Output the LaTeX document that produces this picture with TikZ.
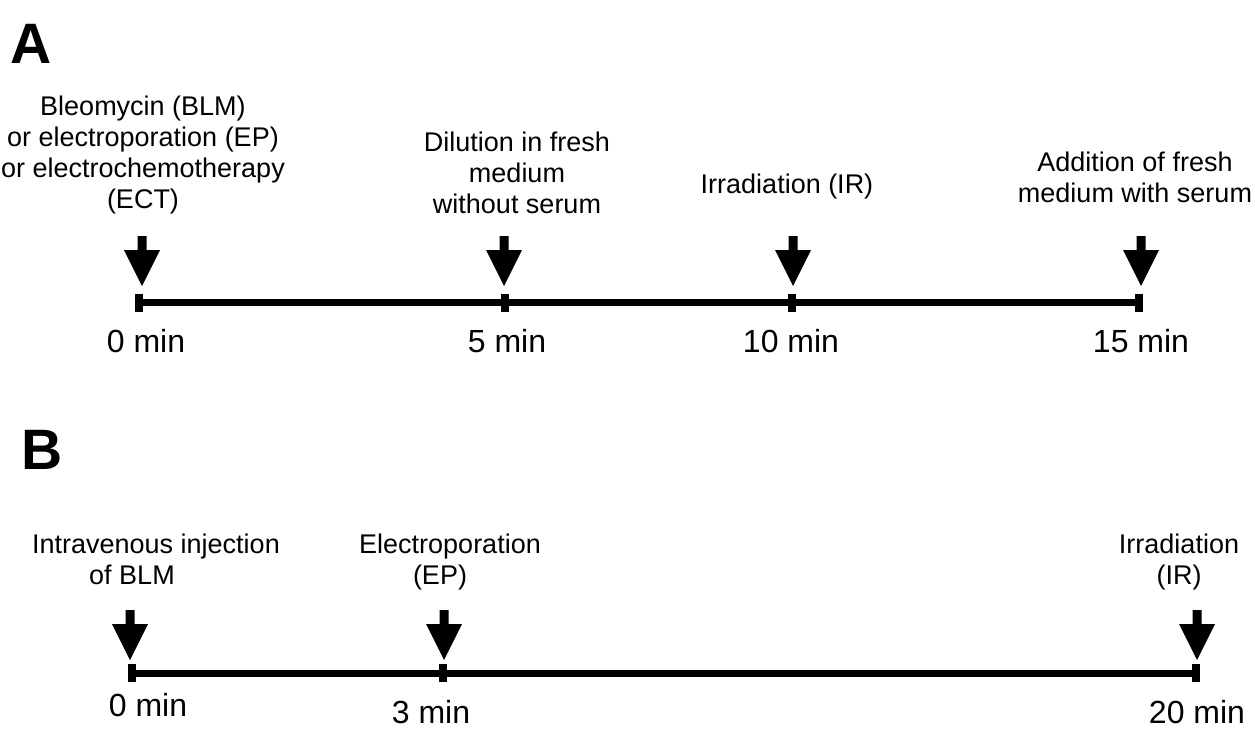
\documentclass[tikz,border=0pt]{standalone}
\usepackage{fontspec}
\setmainfont{Liberation Sans}
\begin{document}
\begin{tikzpicture}[x=1pt,y=-1pt,
  lbl/.style={font=\fontsize{27}{30.8}\selectfont, inner sep=0pt, align=center, anchor=base},
  tlbl/.style={font=\fontsize{32}{36}\selectfont, inner sep=0pt, anchor=base},
  panel/.style={font=\fontsize{57}{60}\selectfont\bfseries, inner sep=0pt, anchor=base west},
  axis/.style={line width=7pt},
  tickmark/.style={line width=8pt},
  pics/downarrow/.style={code={
    \fill (-4.5,-50) -- (4.5,-50) -- (4.5,-36) -- (18,-36) -- (0,0) -- (-18,-36) -- (-4.5,-36) -- cycle;
  }}
]
\useasboundingbox (0,0) rectangle (1255,737);

% ---------- Panel A ----------
\node[panel] (pA) at (10,63) {A};

\coordinate (a0) at (139,302.5);
\coordinate (a5) at (504.5,302.5);
\coordinate (a10) at (792,302.5);
\coordinate (a15) at (1139,302.5);
\coordinate (aS) at (135,302.5);
\coordinate (aE) at (1143,302.5);
\draw[axis] (aS) -- (aE);
\foreach \t in {a0,a5,a10,a15}{\draw[tickmark] ([yshift=9pt]\t) -- ([yshift=-9pt]\t);}

\pic at (142,286) {downarrow};
\pic at (504,286) {downarrow};
\pic at (793,286) {downarrow};
\pic at (1141,286) {downarrow};

% multi-line nodes: base anchor = baseline of the last line
\node[lbl] (la1) at (143,208) {Bleomycin (BLM)\\or electroporation (EP)\\or electrochemotherapy\\(ECT)};
\node[lbl] (la2) at (517,213) {Dilution in fresh\\medium\\without serum};
\node[lbl] (la3) at (787,193) {Irradiation (IR)};
\node[lbl] (la4) at (1135,202) {Addition of fresh\\medium with serum};

\node[tlbl] (ta0) at (146,352) {0 min};
\node[tlbl] (ta5) at (507,352) {5 min};
\node[tlbl] (ta10) at (791,352) {10 min};
\node[tlbl] (ta15) at (1141,352) {15 min};

% ---------- Panel B ----------
\node[panel] (pB) at (21,469) {B};

\coordinate (b0) at (132,673);
\coordinate (b3) at (443,673);
\coordinate (b20) at (1196,673);
\coordinate (bS) at (128,673);
\coordinate (bE) at (1200,673);
\draw[axis] (bS) -- (bE);
\foreach \t in {b0,b3,b20}{\draw[tickmark] ([yshift=9pt]\t) -- ([yshift=-9pt]\t);}

\pic at (130,660) {downarrow};
\pic at (444,660) {downarrow};
\pic at (1197,660) {downarrow};

\node[lbl] (lb1) at (156,584) {Intravenous injection\\of BLM\hspace*{48pt}};
\node[lbl] (lb2) at (450,584) {Electroporation\\(EP)\hspace*{20pt}};
\node[lbl] (lb3) at (1179,584) {Irradiation\\(IR)};

\node[tlbl] (tb0) at (148,716) {0 min};
\node[tlbl] (tb3) at (431,723) {3 min};
\node[tlbl] (tb20) at (1197,723) {20 min};
\end{tikzpicture}
\end{document}
